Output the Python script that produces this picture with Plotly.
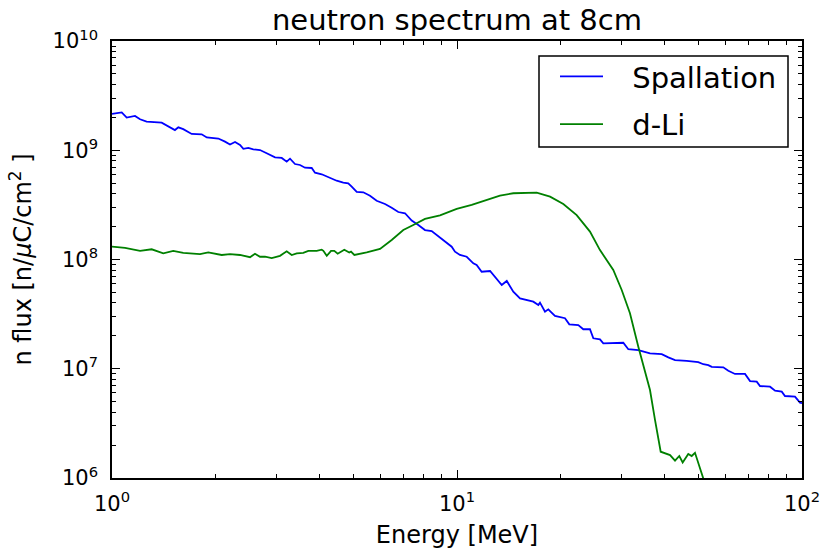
import plotly.graph_objects as go

# ---- data ----
spall_E = [1.00, 1.067, 1.103, 1.166, 1.206, 1.260, 1.393, 1.441, 1.522, 1.557, 1.609, 1.702, 1.820, 1.882,
           2.033, 2.126, 2.198, 2.273, 2.350, 2.403, 2.484, 2.568, 2.685, 2.808, 2.969, 3.104, 3.209, 3.281,
           3.392, 3.507, 3.626, 3.792, 3.876, 4.054, 4.284, 4.479, 4.681, 4.840, 4.952, 5.121, 5.351, 5.595,
           5.850, 6.184, 6.467, 6.759, 7.068, 7.391, 7.724, 8.077, 8.445, 8.733, 9.232, 9.652, 9.867, 10.20,
           10.67, 11.15, 11.40, 11.79, 12.47, 12.89, 13.48, 13.94, 14.56, 15.23, 15.74, 16.64, 17.21, 17.40,
           17.99, 18.39, 19.23, 20.56, 21.16, 22.47, 23.23, 24.29, 24.84, 25.97, 26.55, 30.34, 31.37, 33.54,
           36.26, 39.21, 40.98, 42.85, 46.32, 50.05, 51.75, 53.50, 54.74, 59.14, 61.15, 63.94, 68.37, 70.70,
           73.92, 75.56, 80.79, 83.53, 87.36, 89.27, 95.43, 98.67, 100.0]
spall_flux = [2.15e9, 2.22e9, 1.99e9, 2.06e9, 1.92e9, 1.83e9, 1.79e9, 1.68e9, 1.53e9, 1.62e9, 1.56e9, 1.41e9,
              1.40e9, 1.31e9, 1.28e9, 1.20e9, 1.13e9, 1.19e9, 1.12e9, 1.03e9, 1.05e9, 1.02e9, 1.005e9, 9.38e8,
              8.62e8, 8.50e8, 7.86e8, 8.37e8, 7.48e8, 7.33e8, 6.92e8, 6.88e8, 6.23e8, 6.03e8, 5.54e8, 5.26e8,
              5.05e8, 4.98e8, 4.64e8, 4.15e8, 4.12e8, 3.84e8, 3.45e8, 3.22e8, 2.98e8, 2.72e8, 2.65e8, 2.27e8,
              2.07e8, 1.86e8, 1.82e8, 1.68e8, 1.46e8, 1.31e8, 1.18e8, 1.10e8, 1.06e8, 9.23e7, 8.91e7, 7.73e7,
              7.85e7, 6.96e7, 5.84e7, 6.36e7, 5.07e7, 4.41e7, 4.32e7, 4.11e7, 3.83e7, 4.03e7, 3.33e7, 3.50e7,
              3.04e7, 2.90e7, 2.55e7, 2.51e7, 2.30e7, 2.30e7, 1.90e7, 1.86e7, 1.71e7, 1.73e7, 1.51e7, 1.48e7,
              1.38e7, 1.36e7, 1.27e7, 1.20e7, 1.18e7, 1.15e7, 1.10e7, 1.08e7, 1.04e7, 1.03e7, 9.60e6, 8.96e6,
              8.96e6, 7.72e6, 7.61e6, 6.95e6, 6.85e6, 6.30e6, 6.17e6, 5.63e6, 5.55e6, 4.89e6, 4.85e6]

dli_E = [1.00, 1.091, 1.206, 1.303, 1.408, 1.505, 1.609, 1.799, 1.901, 2.080, 2.198, 2.350, 2.512, 2.597,
         2.685, 2.777, 2.903, 3.069, 3.209, 3.318, 3.431, 3.585, 3.707, 3.921, 4.054, 4.099, 4.193, 4.314,
         4.409, 4.510, 4.713, 4.873, 4.929, 5.040, 5.474, 5.982, 6.467, 6.988, 7.470, 8.077, 8.928, 9.544,
         9.98, 11.03, 12.20, 13.32, 14.56, 17.02, 18.61, 20.33, 22.23, 24.29, 25.97, 28.38, 30.02, 31.72,
         33.54, 35.07, 36.26, 37.49, 38.94, 41.45, 42.85, 44.09, 45.10, 46.81, 47.89, 48.96, 51.22, 52.7]
dli_flux = [1.31e8, 1.28e8, 1.20e8, 1.24e8, 1.14e8, 1.20e8, 1.15e8, 1.12e8, 1.16e8, 1.10e8, 1.12e8, 1.10e8,
            1.05e8, 1.13e8, 1.06e8, 1.06e8, 1.03e8, 1.08e8, 1.19e8, 1.10e8, 1.14e8, 1.15e8, 1.20e8, 1.20e8,
            1.23e8, 1.20e8, 1.08e8, 1.20e8, 1.20e8, 1.13e8, 1.23e8, 1.16e8, 1.18e8, 1.10e8, 1.16e8, 1.25e8,
            1.51e8, 1.86e8, 2.07e8, 2.35e8, 2.54e8, 2.74e8, 2.90e8, 3.16e8, 3.50e8, 3.84e8, 4.04e8, 4.09e8,
            3.76e8, 3.22e8, 2.55e8, 1.80e8, 1.22e8, 8.02e7, 5.26e7, 3.22e7, 1.59e7, 9.74e6, 6.39e6, 3.40e6,
            1.74e6, 1.62e6, 1.44e6, 1.59e6, 1.39e6, 1.66e6, 1.59e6, 1.70e6, 1.10e6, 8.3e5]

x_tickvals = [1, 10, 100]
x_ticktext = ["10<sup>0</sup>", "10<sup>1</sup>", "10<sup>2</sup>"]
y_tickvals = [1e6, 1e7, 1e8, 1e9, 1e10]
y_ticktext = ["10<sup>6</sup>", "10<sup>7</sup>", "10<sup>8</sup>", "10<sup>9</sup>", "10<sup>10</sup>"]
x_minor = [m * 10 ** d for d in range(0, 2) for m in range(2, 10)]
y_minor = [m * 10 ** d for d in range(6, 10) for m in range(2, 10)]

FONT = "DejaVu Sans"
GAP = "\u00a0\u00a0\u2009"

fig = go.Figure()
fig.add_trace(go.Scatter(x=spall_E, y=spall_flux, mode="lines", name=GAP + "Spallation",
                         line=dict(color="#0000ff", width=1.8), legendgroup="a"))
fig.add_trace(go.Scatter(x=dli_E, y=dli_flux, mode="lines", name=GAP + "d-Li",
                         line=dict(color="#008000", width=1.8), legendgroup="b"))

axis_common = dict(
    showline=True, linecolor="black", linewidth=1.5, mirror="allticks",
    ticks="inside", ticklen=8, tickwidth=1, tickcolor="black",
    showgrid=False, zeroline=False,
    tickfont=dict(family=FONT, size=21, color="black"),
)

fig.update_xaxes(type="log", range=[0, 2], tickmode="array", tickvals=x_tickvals, ticktext=x_ticktext,
                 minor=dict(tickmode="array", tickvals=x_minor, ticks="inside", ticklen=4,
                            tickcolor="black", tickwidth=1, showgrid=False),
                 title=dict(text="Energy [MeV]", font=dict(family=FONT, size=24, color="black"), standoff=11),
                 ticklabelstandoff=6,
                 **axis_common)
fig.update_yaxes(type="log", range=[6, 10], tickmode="array", tickvals=y_tickvals, ticktext=y_ticktext,
                 minor=dict(tickmode="array", tickvals=y_minor, ticks="inside", ticklen=4,
                            tickcolor="black", tickwidth=1, showgrid=False),
                 title=dict(text="n flux [n/<i>μ</i>C/cm<sup>2</sup> ]",
                            font=dict(family=FONT, size=24, color="black"), standoff=14),
                 ticklabelstandoff=8,
                 **axis_common)

# legend frame (matplotlib style box)
fig.add_shape(type="rect", xref="paper", yref="paper",
              x0=(539 - 112) / 690, x1=(788 - 112) / 690,
              y0=(478 - 147) / 437, y1=(478 - 56) / 437,
              line=dict(color="black", width=1.5), fillcolor="white", layer="above")

fig.update_layout(
    width=823, height=549,
    margin=dict(l=112, r=21, t=41, b=71, autoexpand=False),
    paper_bgcolor="white", plot_bgcolor="white",
    font=dict(family=FONT, color="black"),
    title=dict(text="neutron spectrum at 8cm", x=(112 + 802) / 2 / 823, xanchor="center",
               y=1 - 20 / 549, yanchor="middle", yref="container",
               font=dict(family=FONT, size=29, color="black")),
    legend=dict(x=(555 - 112) / 690, y=(478 - 51) / 437, xanchor="left", yanchor="top",
                borderwidth=0, bgcolor="rgba(0,0,0,0)",
                font=dict(family=FONT, size=29, color="black"),
                traceorder="grouped", tracegroupgap=7, itemwidth=43),
    showlegend=True,
)

fig.write_html("out.html")
